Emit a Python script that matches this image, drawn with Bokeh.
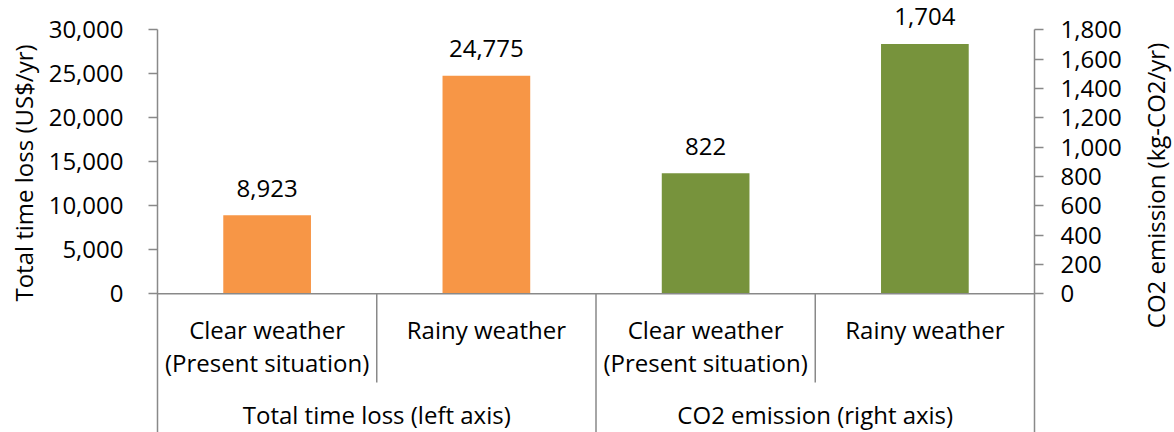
import math
from bokeh.plotting import figure
from bokeh.layouts import row
from bokeh.models import (FactorRange, Range1d, LinearAxis, FixedTicker,
                          NumeralTickFormatter, ColumnDataSource)
from bokeh.core.properties import value
from bokeh.embed import file_html
from bokeh.resources import INLINE

# ---------------- data ----------------
groups = ["Total time loss (left axis)", "CO2 emission (right axis)"]
conditions = ["Clear weather\n(Present situation)", "Rainy weather"]
time_loss = [8923, 24775]          # US$/yr, left axis
co2_emission = [822, 1704]         # kg-CO2/yr, right axis
left_ticks = [0, 5000, 10000, 15000, 20000, 25000, 30000]
right_ticks = [0, 200, 400, 600, 800, 1000, 1200, 1400, 1600, 1800]
left_title = "Total time loss (US$/yr)"
right_title = "CO2 emission (kg-CO2/yr)"

# ---------------- style / layout ----------------
FONT = "Open Sans"
FS = "24px"
ORANGE = "#F79646"
GREEN = "#77933C"
GRAY = "#898989"

H = 432
LW, MW, RW = 40, 1094, 38         # widths: left title, main, right title
FRAME_L, FRAME_R = 157, 1034      # page x of frame edges
TOP_PX, ZERO_PX = 29.3, 293.3     # page y of axis max and zero
LEFT_MAX = left_ticks[-1]
RIGHT_MAX = right_ticks[-1]
RATIO = RIGHT_MAX / LEFT_MAX
K = (ZERO_PX - TOP_PX) / LEFT_MAX


def ly(page_y):
    """page pixel y -> left axis value"""
    return (ZERO_PX - page_y) / K


bottom_left = ly(H)
top_left = ly(0)
yr = Range1d(start=bottom_left, end=top_left)

factors = [(g, c) for g in groups for c in conditions]

p = figure(width=MW, height=H,
           x_range=FactorRange(*factors, range_padding=0, factor_padding=0,
                               group_padding=0, subgroup_padding=0),
           y_range=yr,
           output_backend="svg", toolbar_location=None,
           x_axis_location=None,
           min_border_left=FRAME_L - LW, min_border_right=LW + MW - FRAME_R,
           min_border_top=0, min_border_bottom=0)
p.extra_y_ranges = {"co2": Range1d(start=bottom_left * RATIO, end=top_left * RATIO)}
p.outline_line_color = None
p.xgrid.visible = False
p.ygrid.visible = False


def style_axis(ax, standoff):
    ax.axis_line_color = GRAY
    ax.axis_line_width = 1.5
    ax.major_tick_line_color = GRAY
    ax.major_tick_line_width = 1.5
    ax.major_tick_out = 9
    ax.major_tick_in = 0
    ax.minor_tick_line_color = None
    ax.major_label_standoff = standoff
    ax.major_label_text_font = FONT
    ax.major_label_text_font_size = FS
    ax.major_label_text_color = "black"
    ax.formatter = NumeralTickFormatter(format="0,0")


lax = p.yaxis[0]
lax.ticker = FixedTicker(ticks=left_ticks)
lax.bounds = (bottom_left, LEFT_MAX)
style_axis(lax, 25)

rax = LinearAxis(y_range_name="co2", ticker=FixedTicker(ticks=right_ticks),
                 bounds=(bottom_left * RATIO, RIGHT_MAX))
style_axis(rax, 17)
p.add_layout(rax, "right")

# ---------------- bars ----------------
src_l = ColumnDataSource(dict(x=factors[:2], top=time_loss,
                              label=[f"{v:,}" for v in time_loss]))
src_r = ColumnDataSource(dict(x=factors[2:], top=co2_emission,
                              label=[f"{v:,}" for v in co2_emission]))
p.vbar(x="x", top="top", width=0.4, source=src_l,
       fill_color=ORANGE, line_color=None)
p.vbar(x="x", top="top", width=0.4, source=src_r, y_range_name="co2",
       fill_color=GREEN, line_color=None)

txt = dict(text_font=value(FONT), text_font_size=FS, text_color="black",
           text_align="center", text_baseline="middle")
p.text(x="x", y="top", text="label", source=src_l, y_offset=-27, **txt)
p.text(x="x", y="top", text="label", source=src_r, y_range_name="co2",
       y_offset=-27, **txt)

# ---------------- category axis (drawn in the extended area) ----------------
n = len(factors)
sub_end = ly(382)
p.segment(x0=[0, 1, 2, 3], y0=[0, 0, 0, 0],
          x1=[n, 1, 2, 3], y1=[0, sub_end, bottom_left, sub_end],
          line_color=GRAY, line_width=1.5)

line1 = [c.split("\n")[0] for _, c in factors]
line2 = [(c.split("\n") + [""])[1] for _, c in factors]
p.text(x=factors, y=[0] * n, text=line1, y_offset=36, **txt)
p.text(x=factors, y=[0] * n, text=line2, y_offset=69, **txt)
p.text(x=groups, y=[0] * len(groups), text=groups, y_offset=121, **txt)


# ---------------- axis titles (side figures) ----------------
def title_fig(width, x, y, text):
    f = figure(width=width, height=H, x_range=Range1d(0, width), y_range=yr,
               output_backend="svg", toolbar_location=None,
               x_axis_location=None, y_axis_location=None,
               min_border=0)
    f.outline_line_color = None
    f.grid.visible = False
    f.text(x=[x], y=[y], text=[text], angle=math.pi / 2, **txt)
    return f


left_fig = title_fig(LW, 23, ly(172.5), left_title)
right_fig = title_fig(RW, 1155 - (LW + MW), ly(185), right_title)

layout = row(left_fig, p, right_fig, spacing=0)
open("out.html", "w").write(file_html(layout, INLINE))
